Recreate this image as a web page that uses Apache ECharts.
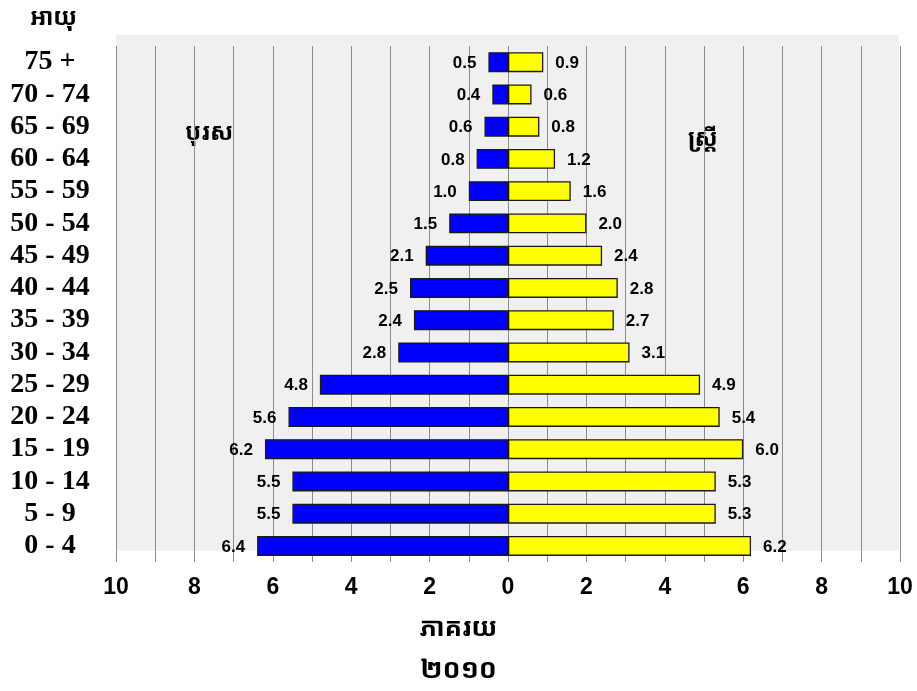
<!DOCTYPE html>
<html>
<head>
<meta charset="utf-8">
<script src="https://cdn.jsdelivr.net/npm/echarts@6/dist/echarts.min.js"></script>
<style>
  html, body { margin: 0; padding: 0; background: #ffffff; }
  #chart { width: 917px; height: 691px; }
</style>
</head>
<body>
<div id="chart"></div>
<script>
// Age groups, youngest at the bottom of the pyramid
const ageGroups = ['0 - 4', '5 - 9', '10 - 14', '15 - 19', '20 - 24', '25 - 29', '30 - 34', '35 - 39',
                   '40 - 44', '45 - 49', '50 - 54', '55 - 59', '60 - 64', '65 - 69', '70 - 74', '75 +'];
// Share of population (%) by age group
const malePct   = [6.4, 5.5, 5.5, 6.2, 5.6, 4.8, 2.8, 2.4, 2.5, 2.1, 1.5, 1.0, 0.8, 0.6, 0.4, 0.5];
const femalePct = [6.2, 5.3, 5.3, 6.0, 5.4, 4.9, 3.1, 2.7, 2.8, 2.4, 2.0, 1.6, 1.2, 0.8, 0.6, 0.9];
// Axis range
const axisMin = -10;
const axisMax = 10;

const khmerFont = "'Khmer OS', 'Noto Sans Khmer', 'Khmer OS System', 'Noto Sans', sans-serif";
const chart = echarts.init(document.getElementById('chart'));

const valueLabel = {
  show: true,
  fontFamily: "'Liberation Sans', Arial, sans-serif",
  fontWeight: 'bold',
  fontSize: 17,
  color: '#000',
  distance: 12,
  offset: [0, 1],
  formatter: p => Math.abs(p.value).toFixed(1)
};

chart.setOption({
  animation: false,
  backgroundColor: '#ffffff',
  grid: { left: 116, right: 17, top: 46, bottom: 129 },
  graphic: [
    { type: 'rect', z: -10, silent: true,
      shape: { x: 116, y: 35, width: 783, height: 516 },
      style: { fill: '#f0f0f0' } },
    { type: 'text', left: 30, top: 6,
      style: { text: 'អាយុ', font: "bold 24px " + khmerFont, fill: '#000' } },
    { type: 'text', left: 185, top: 121,
      style: { text: 'បុរស', font: "bold 24px " + khmerFont, fill: '#000' } },
    { type: 'text', left: 688, top: 127,
      style: { text: 'ស្ត្រី', font: "bold 24px " + khmerFont, fill: '#000' } },
    { type: 'text', left: 'center', top: 616,
      style: { text: 'ភាគរយ', font: "bold 26px " + khmerFont, fill: '#000' } },
    { type: 'text', left: 'center', top: 657,
      style: { text: '២០១០', font: "bold 27px " + khmerFont, fill: '#000' } }
  ],
  xAxis: {
    type: 'value',
    min: axisMin,
    max: axisMax,
    interval: 1,
    axisLine: { show: false },
    axisTick: { show: false },
    splitLine: { show: true, lineStyle: { color: '#8c8c8c', width: 1 } },
    axisLabel: {
      margin: 14,
      fontFamily: "'Liberation Sans', Arial, sans-serif",
      fontWeight: 'bold',
      fontSize: 23,
      color: '#000',
      formatter: v => (v % 2 === 0 ? String(Math.abs(v)) : '')
    }
  },
  yAxis: {
    type: 'category',
    data: ageGroups,
    axisLine: { show: false },
    axisTick: { show: false },
    axisLabel: {
      interval: 0,
      margin: 66,
      align: 'center',
      fontFamily: "'Liberation Serif', 'Times New Roman', serif",
      fontWeight: 'bold',
      fontSize: 28,
      color: '#000',
      padding: [3, 0, 0, 0]
    }
  },
  series: [
    {
      name: 'បុរស',
      type: 'bar',
      stack: 'pyramid',
      barWidth: 20,
      data: malePct.map(v => -v),
      itemStyle: { color: '#0000ff', borderColor: '#1a1a1a', borderWidth: 1.3 },
      label: Object.assign({ position: 'left' }, valueLabel)
    },
    {
      name: 'ស្ត្រី',
      type: 'bar',
      stack: 'pyramid',
      barWidth: 20,
      data: femalePct,
      itemStyle: { color: '#ffff00', borderColor: '#1a1a1a', borderWidth: 1.3 },
      label: Object.assign({ position: 'right' }, valueLabel)
    }
  ]
});
</script>
</body>
</html>
